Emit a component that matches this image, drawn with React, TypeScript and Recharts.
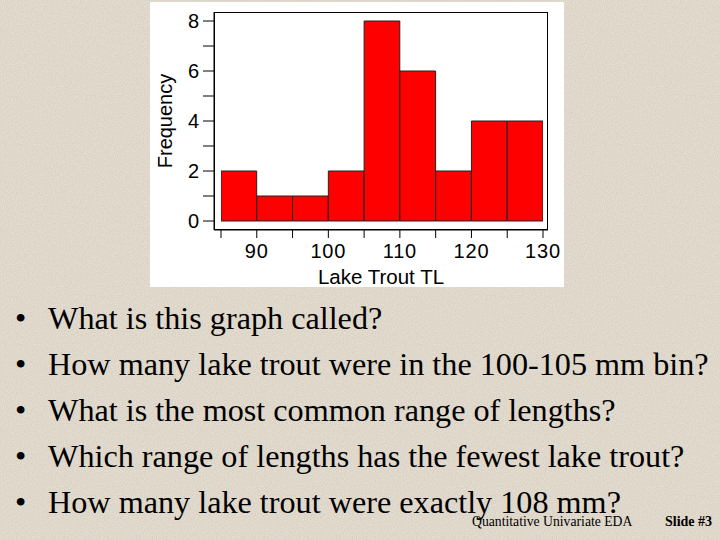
import { BarChart, Bar, XAxis, YAxis } from "recharts";

const binStarts = [85, 90, 95, 100, 105, 110, 115, 120, 125];
const binWidth = 5;
const counts = [2, 1, 1, 2, 8, 6, 2, 4, 4];
const xTicks = [85, 90, 95, 100, 105, 110, 115, 120, 125, 130];
const xLabels = [90, 100, 110, 120, 130];
const yTicks = [0, 1, 2, 3, 4, 5, 6, 7, 8];
const yLabels = [0, 2, 4, 6, 8];
const questions = [
  "What is this graph called?",
  "How many lake trout were in the 100-105 mm bin?",
  "What is the most common range of lengths?",
  "Which range of lengths has the fewest lake trout?",
  "How many lake trout were exactly 108 mm?",
];

const data = binStarts.map((s, i) => ({ mid: s + binWidth / 2, count: counts[i] }));

const SANS = "'Liberation Sans', Arial, sans-serif";
const SERIF = "'Liberation Serif', 'Times New Roman', serif";

// faint speckle for the slide's paper texture
const noise =
  "url(\"data:image/svg+xml;utf8,<svg xmlns='http://www.w3.org/2000/svg' width='200' height='200'><filter id='n'><feTurbulence type='fractalNoise' baseFrequency='0.9' numOctaves='2' stitchTiles='stitch'/><feColorMatrix values='0 0 0 0 0.45 0 0 0 0 0.4 0 0 0 0 0.32 0 0 0 0.5 -0.12'/></filter><rect width='200' height='200' filter='url(%23n)'/></svg>\")";

function XTick({ x, y, payload }: any) {
  if (!xLabels.includes(payload.value)) return <g />;
  return (
    <text x={x} y={y} dy="0.72em" textAnchor="middle" fontSize={20} letterSpacing={0.8} fontFamily={SANS} fill="#000">
      {payload.value}
    </text>
  );
}

function YTick({ x, y, payload }: any) {
  if (!yLabels.includes(payload.value)) return <g />;
  return (
    <text x={x} y={y} dy="0.36em" textAnchor="end" fontSize={20} fontFamily={SANS} fill="#000">
      {payload.value}
    </text>
  );
}

export default function App() {
  return (
    <div style={{ position: "fixed", left: 0, top: 0, width: 720, height: 540, backgroundColor: "#e5ded2", backgroundImage: noise, overflow: "hidden" }}>
      <div style={{ position: "absolute", left: 150, top: 2, width: 414, height: 285, background: "#fff" }}>
        <BarChart width={414} height={285} data={data} margin={{ top: 10, right: 16, bottom: 0, left: 0 }}>
          <XAxis
            dataKey="mid"
            type="number"
            domain={[85, 130]}
            ticks={xTicks}
            allowDataOverflow
            padding={{ left: 7, right: 5 }}
            height={57}
            tickSize={8}
            tickMargin={6}
            stroke="#000"
            tick={<XTick />}
            label={{ value: "Lake Trout TL", position: "insideBottom", offset: 3, style: { fontSize: 20.5, fill: "#000", fontFamily: SANS } }}
          />
          <YAxis
            domain={[0, 8]}
            ticks={yTicks}
            padding={{ top: 9, bottom: 9 }}
            width={64}
            tickSize={11}
            tickMargin={4}
            stroke="#000"
            tick={<YTick />}
            label={{ value: "Frequency", angle: -90, position: "insideLeft", offset: 15, style: { fontSize: 20, fill: "#000", fontFamily: SANS, textAnchor: "middle" } }}
          />
          <Bar dataKey="count" barSize={35.7} fill="#ff0000" stroke="#222" strokeWidth={1} isAnimationActive={false} />
        </BarChart>
        <div style={{ position: "absolute", left: 64, top: 10, width: 334, height: 218, border: "1px solid #000", boxSizing: "border-box", pointerEvents: "none" }} />
      </div>
      {questions.map((q, i) => (
        <div key={i} style={{ position: "absolute", left: 0, top: 302 + i * 46, fontFamily: SERIF, fontSize: 32.2, lineHeight: "32px", color: "#000", whiteSpace: "nowrap" }}>
          <span style={{ position: "absolute", left: 15 }}>•</span>
          <span style={{ position: "absolute", left: 48 }}>{q}</span>
        </div>
      ))}
      <div style={{ position: "absolute", left: 472, top: 515, fontFamily: SERIF, fontSize: 13.7, lineHeight: "14px", color: "#000", whiteSpace: "nowrap" }}>
        Quantitative Univariate EDA
      </div>
      <div style={{ position: "absolute", left: 665, top: 515, fontFamily: SERIF, fontSize: 14, lineHeight: "14px", fontWeight: "bold", color: "#000", whiteSpace: "nowrap" }}>
        Slide #3
      </div>
    </div>
  );
}
